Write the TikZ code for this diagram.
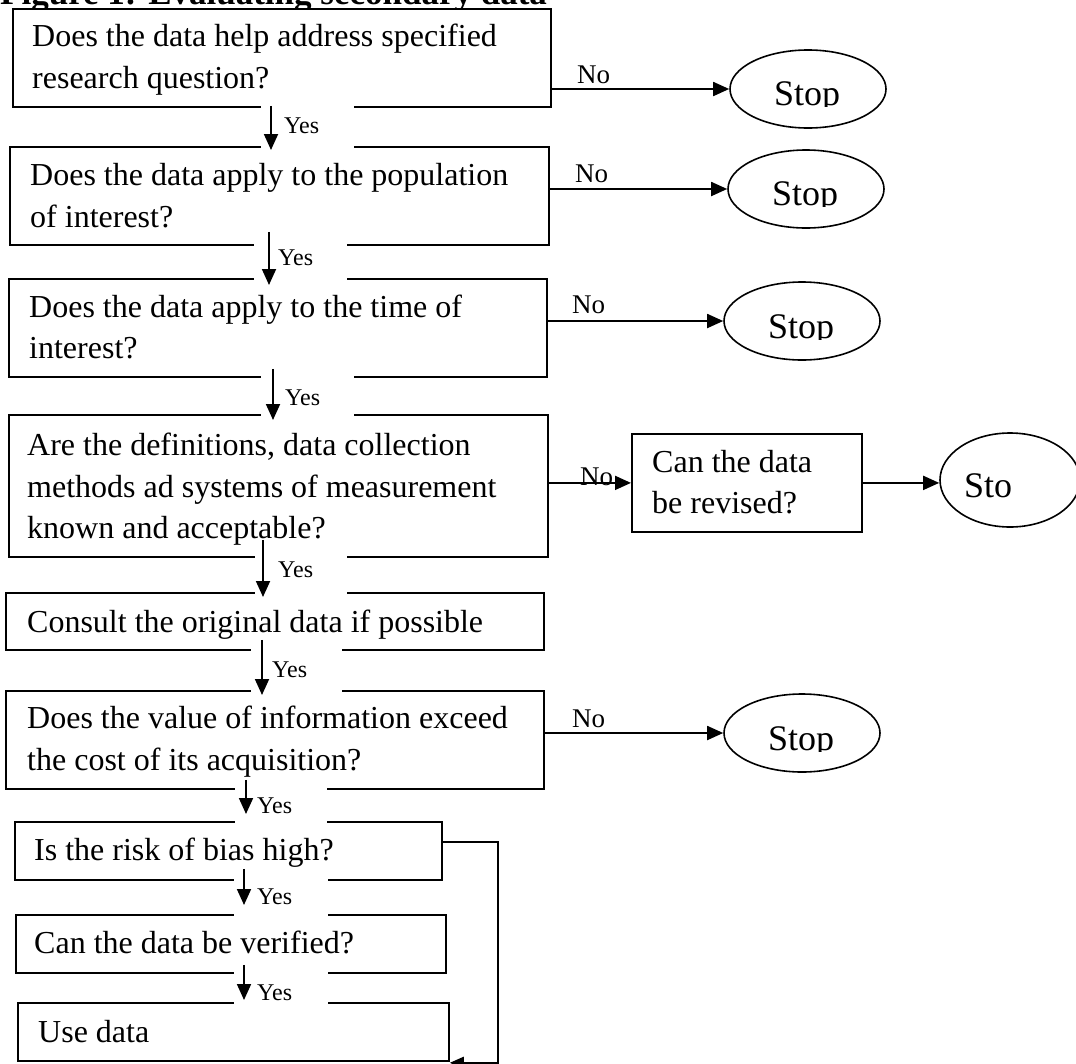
\documentclass[tikz,border=0pt]{standalone}
\usepackage{fontspec}
\setmainfont{Liberation Serif}
\usetikzlibrary{shapes.geometric,arrows.meta,calc}
\tikzset{
  box/.style={draw, line width=1.8pt, fill=white, rectangle, inner sep=0pt, anchor=north west},
  txt/.style={inner sep=0pt, anchor=base west, font=\fontsize{32}{38}\selectfont},
  yeslbl/.style={inner sep=0pt, anchor=base west, font=\fontsize{24}{28}\selectfont},
  nolbl/.style={inner sep=0pt, anchor=base west, font=\fontsize{27}{30}\selectfont},
  stoptxt/.style={inner sep=0pt, anchor=base west, font=\fontsize{36}{40}\selectfont},
  stopel/.style={draw, ellipse, line width=1.6pt, inner sep=0pt},
  cover/.style={fill=white, draw=none, inner sep=0pt, anchor=north west},
  arr/.style={line width=1.8pt, -{Triangle[length=16pt,width=14pt]}},
  thinarr/.style={line width=1.4pt, -{Triangle[length=14pt,width=12pt]}},
}
\begin{document}
\begin{tikzpicture}[x=1pt,y=1pt]
\useasboundingbox (0,0) rectangle (1076,-1063);
% title (cut by the top edge)
\node[inner sep=0pt, anchor=base west, font=\fontsize{35}{40}\selectfont\bfseries] (title) at (0,-4) {Figure 1: Evaluating secondary data};
% boxes
\node[box, minimum width=538pt, minimum height=98pt] (b1) at (12,-8) {};
\node[box, minimum width=539pt, minimum height=98pt] (b2) at (9,-146) {};
\node[box, minimum width=538pt, minimum height=98pt] (b3) at (8,-278) {};
\node[box, minimum width=539pt, minimum height=142pt] (b4) at (8,-414) {};
\node[box, minimum width=538pt, minimum height=57pt] (b5) at (5,-592) {};
\node[box, minimum width=538pt, minimum height=98pt] (b6) at (5,-690) {};
\node[box, minimum width=427pt, minimum height=58pt] (b7) at (14,-821) {};
\node[box, minimum width=430pt, minimum height=58pt] (b9) at (15,-914) {};
\node[box, minimum width=431pt, minimum height=58pt] (b10) at (17,-1002) {};
\node[box, minimum width=230pt, minimum height=98pt] (b8) at (631,-433) {};
% stop ellipses
\node[stopel, minimum width=156pt, minimum height=78pt] (s1) at (808,-89) {};
\node[stopel, minimum width=156pt, minimum height=78pt] (s2) at (806,-189) {};
\node[stopel, minimum width=156pt, minimum height=78pt] (s3) at (802,-321) {};
\node[stopel, minimum width=140pt, minimum height=94pt] (s4) at (1010,-480) {};
\node[stopel, minimum width=156pt, minimum height=78pt] (s5) at (802,-733) {};
% box texts
\node[txt] (t1a) at (32,-46) {Does the data help address specified};
\node[txt] (t1b) at (32,-88) {research question?};
\node[txt] (t2a) at (30,-185) {Does the data apply to the population};
\node[txt] (t2b) at (30,-227) {of interest?};
\node[txt] (t3a) at (29,-317) {Does the data apply to the time of};
\node[txt] (t3b) at (29,-358) {interest?};
\node[txt] (t4a) at (27,-455) {Are the definitions, data collection};
\node[txt] (t4b) at (27,-497) {methods ad systems of measurement};
\node[txt] (t4c) at (27,-538) {known and acceptable?};
\node[txt] (t5) at (27,-632) {Consult the original data if possible};
\node[txt] (t6a) at (27,-728) {Does the value of information exceed};
\node[txt] (t6b) at (27,-770) {the cost of its acquisition?};
\node[txt] (t7) at (34,-860) {Is the risk of bias high?};
\node[txt] (t9) at (34,-953) {Can the data be verified?};
\node[txt] (t10) at (38,-1042) {Use data};
\node[txt] (t8a) at (652,-472) {Can the data};
\node[txt] (t8b) at (652,-513) {be revised?};
% stop texts (descenders cut as in the original)
\begin{scope}\clip (700,-40) rectangle (900,-106);
\node[stoptxt] (st1) at (774,-105) {Stop};\end{scope}
\begin{scope}\clip (700,-140) rectangle (900,-206);
\node[stoptxt] (st2) at (772,-205) {Stop};\end{scope}
\begin{scope}\clip (700,-270) rectangle (900,-339);
\node[stoptxt] (st3) at (768,-338) {Stop};\end{scope}
\begin{scope}\clip (700,-680) rectangle (900,-751);
\node[stoptxt] (st5) at (768,-750) {Stop};\end{scope}
\node[stoptxt] (st4) at (964,-497) {Sto};
% white gaps behind the Yes labels
\node[cover, minimum width=93pt, minimum height=46pt] (c12) at (261,-103) {};
\node[cover, minimum width=93pt, minimum height=40pt] (c23) at (254,-241) {};
\node[cover, minimum width=93pt, minimum height=44pt] (c34) at (261,-373) {};
\node[cover, minimum width=92pt, minimum height=42pt] (c45) at (255,-553) {};
\node[cover, minimum width=91pt, minimum height=47pt] (c56) at (251,-646) {};
\node[cover, minimum width=92pt, minimum height=39pt] (c67) at (235,-785) {};
\node[cover, minimum width=94pt, minimum height=41pt] (c79) at (234,-876) {};
\node[cover, minimum width=94pt, minimum height=36pt] (c910) at (234,-969) {};
% arrow x positions
\coordinate (x12) at (271,0);
\coordinate (x23) at (269,0);
\coordinate (x34) at (273,0);
\coordinate (x45) at (263,0);
\coordinate (x56) at (262,0);
\coordinate (x67) at (246,0);
\coordinate (x79) at (244,0);
\coordinate (x910) at (244,0);
% Yes arrows
\draw[arr] ($(b1.south -| x12)+(0,2)$) -- ($(b2.north -| x12)+(0,-4)$);
\draw[arr] ($(b2.south -| x23)+(0,14)$) -- ($(b3.north -| x23)+(0,-7)$);
\draw[arr] ($(b3.south -| x34)+(0,9)$) -- ($(b4.north -| x34)+(0,-6)$);
\draw[arr] ($(b4.south -| x45)+(0,18)$) -- ($(b5.north -| x45)+(0,-5)$);
\draw[arr] ($(b5.south -| x56)+(0,11)$) -- ($(b6.north -| x56)+(0,-5)$);
\draw[arr] ($(b6.south -| x67)+(0,10)$) -- ($(b7.north -| x67)+(0,7)$);
\draw[arr] ($(b7.south -| x79)+(0,12)$) -- ($(b9.north -| x79)+(0,9)$);
\draw[arr] ($(b9.south -| x910)+(0,9)$) -- ($(b10.north -| x910)+(0,2)$);
% Yes labels
\node[yeslbl] (y12) at (284,-133) {Yes};
\node[yeslbl] (y23) at (278,-265) {Yes};
\node[yeslbl] (y34) at (285,-405) {Yes};
\node[yeslbl] (y45) at (278,-577) {Yes};
\node[yeslbl] (y56) at (272,-677) {Yes};
\node[yeslbl] (y67) at (257,-813) {Yes};
\node[yeslbl] (y79) at (257,-904) {Yes};
\node[yeslbl] (y910) at (257,-1000) {Yes};
% No arrows
\node[nolbl] (n1) at (577,-83) {No};
\node[nolbl] (n2) at (575,-182) {No};
\node[nolbl] (n3) at (572,-313) {No};
\node[nolbl] (n4) at (580,-485) {No};
\node[nolbl] (n5) at (572,-727) {No};
\draw[arr] (b1.east |- s1.west) -- (s1.west);
\draw[arr] (b2.east |- s2.west) -- (s2.west);
\draw[arr] (b3.east |- s3.west) -- (s3.west);
\draw[arr] (b4.east |- b8.west) -- (b8.west);
\draw[arr] (b8.east) -- (b8.east -| s4.west);
\draw[arr] (b6.east |- s5.west) -- (s5.west);
% bias high -> use data
\draw[thinarr] ($(b7.east)+(0,9)$) -- ($(b7.east)+(55,9)$) |- ($(b10.south east)+(0,-1)$);
\end{tikzpicture}
\end{document}
